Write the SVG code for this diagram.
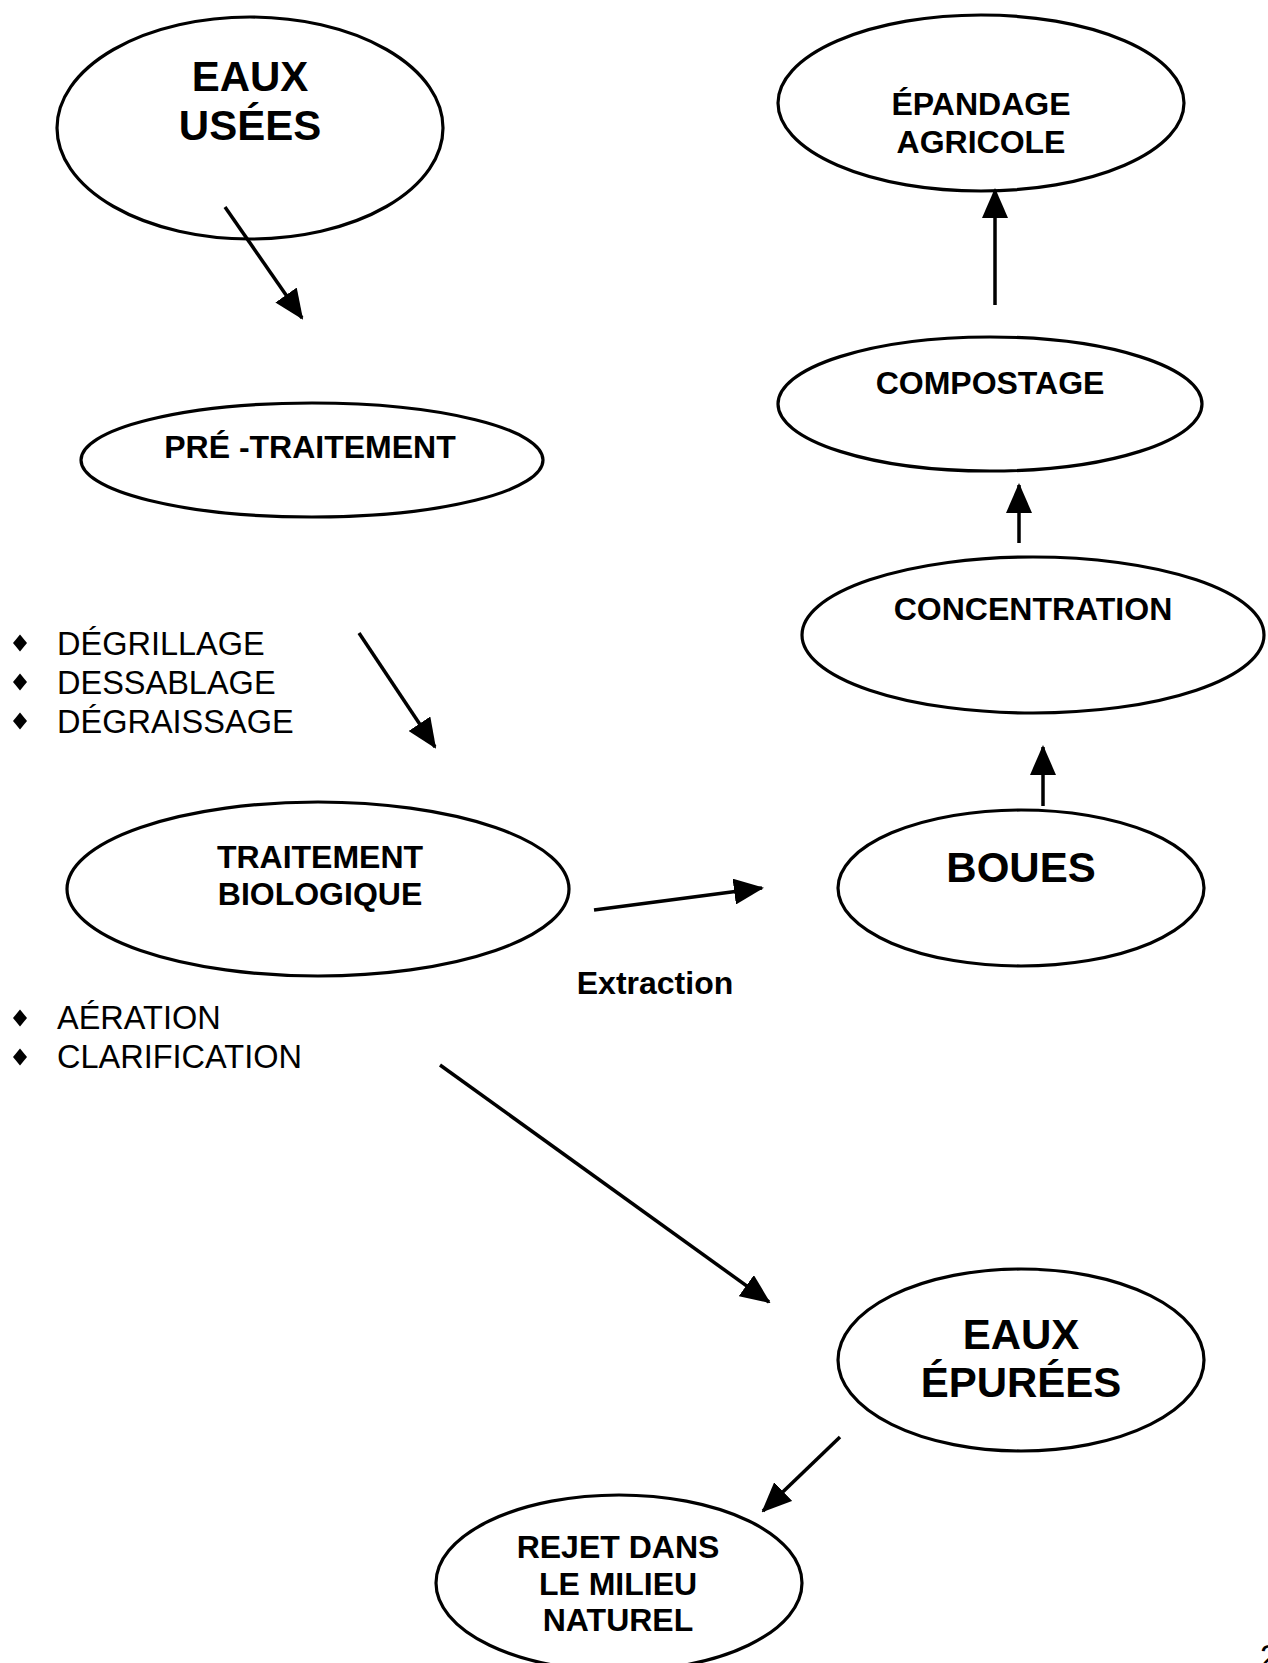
<svg xmlns="http://www.w3.org/2000/svg" width="1268" height="1663" viewBox="0 0 1268 1663">
<style>
.node ellipse{fill:none;stroke:#000;stroke-width:3.2}
.lbl{font-family:"Liberation Sans",Arial,sans-serif;font-weight:bold;font-size:32px;text-anchor:middle;fill:#000}
.big{font-size:42px}
.item{font-family:"Liberation Sans",Arial,sans-serif;font-size:32.5px;fill:#000}
.conn line{stroke:#000;stroke-width:3.5;marker-end:url(#ah)}
.dia{fill:#000}
</style>
<defs>
<marker id="ah" markerUnits="userSpaceOnUse" markerWidth="30" markerHeight="26" viewBox="0 0 30 26" refX="28" refY="13" orient="auto">
<path d="M0,0 L30,13 L0,26 z" fill="#000"/>
</marker>
<path id="d" d="M0,-8.5 L7,0 L0,8.5 L-7,0 z"/>
</defs>
<rect width="1268" height="1663" fill="#fff"/>

<g id="eaux-usees" class="node">
<ellipse cx="250" cy="128" rx="193" ry="111"/>
<text class="lbl big" x="250" y="91">EAUX</text>
<text class="lbl big" x="250" y="140">USÉES</text>
</g>

<g id="pre-traitement" class="node">
<ellipse cx="312" cy="460" rx="231" ry="57"/>
<text class="lbl" x="310" y="458">PRÉ -TRAITEMENT</text>
</g>

<g id="liste-pre">
<use href="#d" class="dia" x="20" y="643"/>
<use href="#d" class="dia" x="20" y="682"/>
<use href="#d" class="dia" x="20" y="721"/>
<text class="item" x="57" y="655">DÉGRILLAGE</text>
<text class="item" x="57" y="694">DESSABLAGE</text>
<text class="item" x="57" y="733">DÉGRAISSAGE</text>
</g>

<g id="traitement-bio" class="node">
<ellipse cx="318" cy="889" rx="251" ry="87"/>
<text class="lbl" x="320" y="868">TRAITEMENT</text>
<text class="lbl" x="320" y="905">BIOLOGIQUE</text>
</g>

<g id="liste-bio">
<use href="#d" class="dia" x="20" y="1018"/>
<use href="#d" class="dia" x="20" y="1057"/>
<text class="item" x="57" y="1029">AÉRATION</text>
<text class="item" x="57" y="1068">CLARIFICATION</text>
</g>

<g id="extraction-label">
<text class="lbl" x="655" y="994">Extraction</text>
</g>

<g id="boues" class="node">
<ellipse cx="1021" cy="888" rx="183" ry="78"/>
<text class="lbl big" x="1021" y="882">BOUES</text>
</g>

<g id="concentration" class="node">
<ellipse cx="1033" cy="635" rx="231" ry="78"/>
<text class="lbl" x="1033" y="620">CONCENTRATION</text>
</g>

<g id="compostage" class="node">
<ellipse cx="990" cy="404" rx="212" ry="67"/>
<text class="lbl" x="990" y="394">COMPOSTAGE</text>
</g>

<g id="epandage" class="node">
<ellipse cx="981" cy="103" rx="203" ry="88"/>
<text class="lbl" x="981" y="115">ÉPANDAGE</text>
<text class="lbl" x="981" y="153">AGRICOLE</text>
</g>

<g id="eaux-epurees" class="node">
<ellipse cx="1021" cy="1360" rx="183" ry="91"/>
<text class="lbl big" x="1021" y="1349">EAUX</text>
<text class="lbl big" x="1021" y="1397">ÉPURÉES</text>
</g>

<g id="rejet" class="node">
<ellipse cx="619" cy="1583" rx="183" ry="88"/>
<text class="lbl" x="618" y="1558">REJET DANS</text>
<text class="lbl" x="618" y="1595">LE MILIEU</text>
<text class="lbl" x="618" y="1631">NATUREL</text>
</g>

<g id="connectors" class="conn">
<line x1="225" y1="207" x2="302" y2="318"/>
<line x1="359" y1="633" x2="435" y2="747"/>
<line x1="594" y1="910" x2="762" y2="888"/>
<line x1="1043" y1="806" x2="1043" y2="747"/>
<line x1="1019" y1="543" x2="1019" y2="485"/>
<line x1="995" y1="305" x2="995" y2="190"/>
<line x1="440" y1="1065" x2="769" y2="1302"/>
<line x1="840" y1="1437" x2="763" y2="1511"/>
</g>

<text class="item" x="1260" y="1668">2</text>
</svg>
